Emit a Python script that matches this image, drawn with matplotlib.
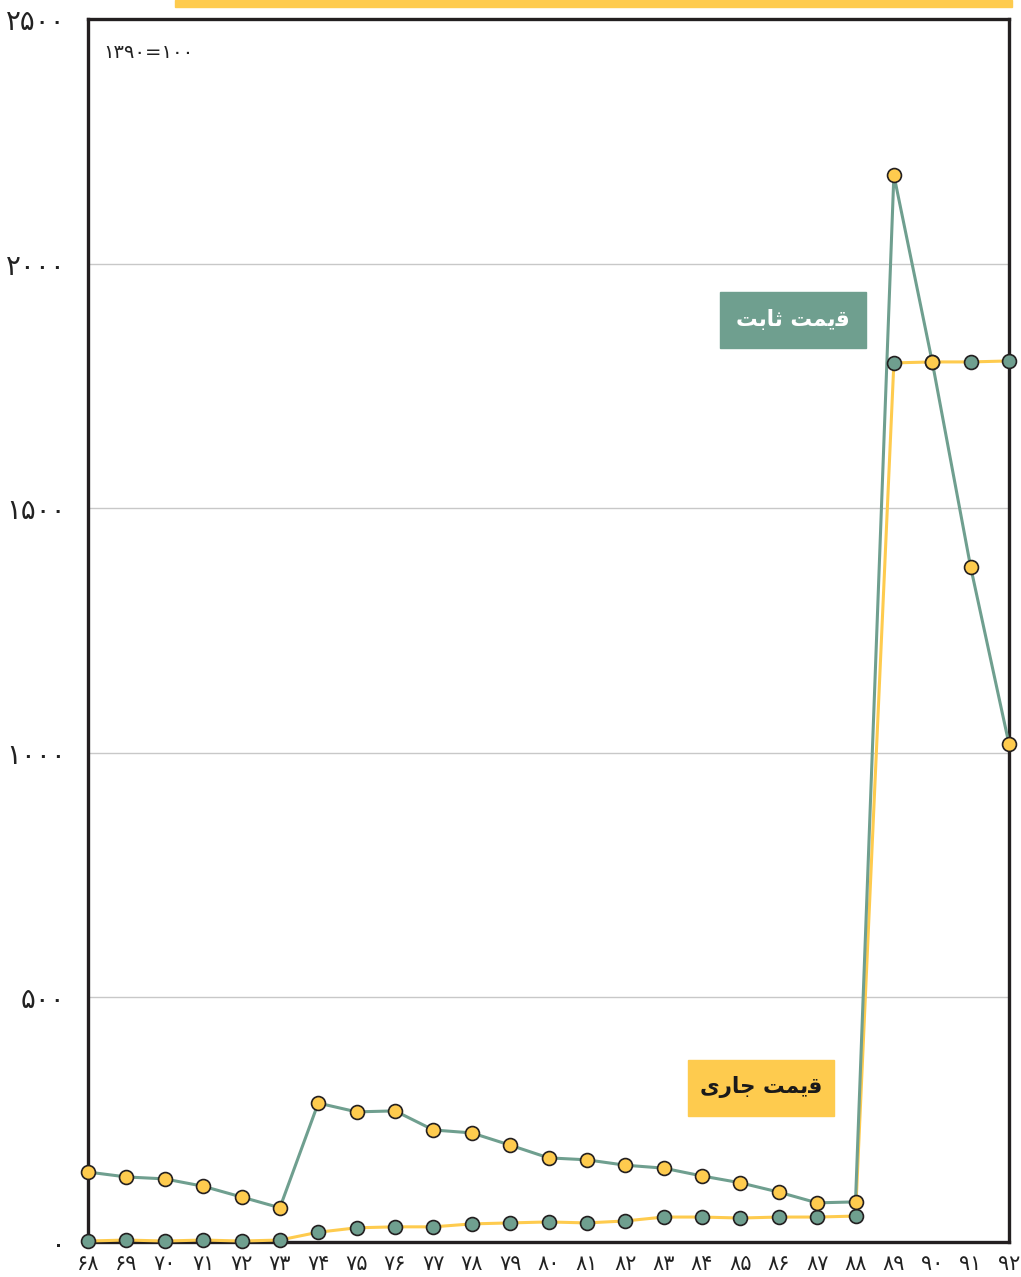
#!/usr/bin/env python3
"""Index chart: constant vs current price, 1368-1392 (1390=100)."""

import matplotlib
matplotlib.use("Agg")
import matplotlib.pyplot as plt
from matplotlib.patches import Rectangle

GREEN = "#6f9f8f"
YELLOW = "#fecb4e"
DARK = "#231f20"

years = list(range(68, 93))
constant_price = [143, 133, 129, 114, 92, 70, 284, 266, 268, 229, 223, 198, 172, 168,
                  157, 151, 135, 121, 102, 80, 82, 2181, 1799, 1380, 1018]
current_price = [2, 4, 2, 4, 2, 4, 20, 29, 31, 31, 37, 39, 41, 39,
                 43, 51, 51, 49, 51, 51, 53, 1797, 1799, 1799, 1801]
y_ticks = [0, 500, 1000, 1500, 2000, 2500]

PERSIAN_DIGITS = str.maketrans("0123456789", "۰۱۲۳۴۵۶۷۸۹")

# Persian labels in presentation forms, visual (left-to-right) order
label_constant = "\ufe96\ufe91\ufe8e\ufe9b \ufe96\ufee4\ufbfe\ufed7"   # قیمت ثابت
label_current = "\ufbfc\ufead\ufe8e\ufe9f \ufe96\ufee4\ufbfe\ufed7"    # قیمت جاری
base_label = "۱۳۹۰=۱۰۰"


def fa(n):
    return str(n).translate(PERSIAN_DIGITS)


W, H = 1021, 1277
fig = plt.figure(figsize=(W / 100, H / 100), dpi=100)
ax = fig.add_axes([88 / W, 1 - 1242 / H, (1009 - 88) / W, (1242 - 19) / H])

ax.plot(years, current_price, color=YELLOW, lw=2.2, zorder=3, clip_on=False)
ax.plot(years, constant_price, color=GREEN, lw=2.2, zorder=4, clip_on=False)
ax.plot(years, current_price, ls="none", marker="o", ms=10, mfc=GREEN, mec=DARK,
        mew=1.2, zorder=5, clip_on=False)
ax.plot(years, constant_price, ls="none", marker="o", ms=10, mfc=YELLOW, mec=DARK,
        mew=1.2, zorder=6, clip_on=False)

ax.set_xlim(68, 92)
ax.set_ylim(0, 2500)
ax.set_yticks(y_ticks)
ax.set_yticklabels([fa(v) for v in y_ticks], fontsize=20, family="DejaVu Sans")
ax.set_xticks(years)
ax.set_xticklabels([fa(y) for y in years], fontsize=15, family="DejaVu Sans")
ax.tick_params(axis="y", length=0, pad=16, colors="#222222")
ax.tick_params(axis="x", length=0, pad=9, colors="#222222")
ax.grid(axis="y", color="#c8c8c8", lw=1, zorder=1)
for side in ax.spines.values():
    side.set_color(DARK)
    side.set_linewidth(2.4)
    side.set_zorder(2)

ax.text(0.017, 0.973, base_label, transform=ax.transAxes, fontsize=14,
        ha="left", va="center", family="DejaVu Sans", color="#222222")

# label boxes
fig.patches.append(Rectangle((720 / W, 1 - 348 / H), 146 / W, 56 / H,
                             transform=fig.transFigure, color=GREEN, zorder=10))
fig.text(793 / W, 1 - 319 / H, label_constant, color="white", fontsize=15.5,
         fontweight="bold", ha="center", va="center", family="DejaVu Sans", zorder=11)
fig.patches.append(Rectangle((688 / W, 1 - 1116 / H), 146 / W, 56 / H,
                             transform=fig.transFigure, color=YELLOW, zorder=10))
fig.text(761 / W, 1 - 1087 / H, label_current, color="#1a1a1a", fontsize=15.5,
         fontweight="bold", ha="center", va="center", family="DejaVu Sans", zorder=11)

# cut-off title bar at the top edge
fig.patches.append(Rectangle((175 / W, 1 - 7 / H), (1012 - 175) / W, 7 / H,
                             transform=fig.transFigure, color=YELLOW))

fig.savefig("out.png", dpi=100)
